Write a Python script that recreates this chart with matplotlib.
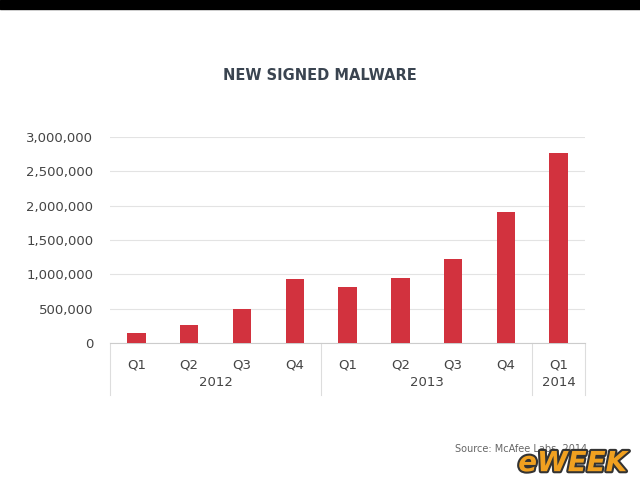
import matplotlib
matplotlib.use("Agg")
import matplotlib.pyplot as plt
import matplotlib.transforms as mtransforms
import matplotlib.patheffects as pe

quarters = ["Q1", "Q2", "Q3", "Q4", "Q1", "Q2", "Q3", "Q4", "Q1"]
years = ["2012", "2013", "2014"]
year_spans = [(0, 3), (4, 7), (8, 8)]
values = [146000, 262000, 495000, 933000, 816000, 947000, 1220000, 1910000, 2770000]
yticks = [0, 500000, 1000000, 1500000, 2000000, 2500000, 3000000]

fig = plt.figure(figsize=(6.4, 4.8), dpi=100)
fig.patch.set_facecolor("white")
fig.patches.append(plt.Rectangle((0, 0.982), 1, 0.018, transform=fig.transFigure, color="black", zorder=0))

ax = fig.add_axes([0.172, 0.285, 0.742, 0.43])
x = list(range(len(values)))
ax.bar(x, values, width=0.35, color="#d2323e", zorder=3)
ax.set_xlim(-0.5, 8.5)
ax.set_ylim(0, 3000000)
ax.set_yticks(yticks)
ax.set_yticklabels([f"{v:,}" for v in yticks], fontsize=9.5, color="#444444")
ax.yaxis.grid(True, color="#e3e3e3", linewidth=0.8, zorder=0)
ax.set_xticks([])
for s in ["top", "right", "left"]:
    ax.spines[s].set_visible(False)
ax.spines["bottom"].set_color("#cccccc")
ax.tick_params(axis="y", length=0, pad=12)

trans = mtransforms.blended_transform_factory(ax.transData, ax.transAxes)
for i, q in enumerate(quarters):
    ax.text(i, -0.105, q, transform=trans, ha="center", va="center", fontsize=9.5, color="#444444")
for yr, (a, b) in zip(years, year_spans):
    ax.text((a + b) / 2, -0.19, yr, transform=trans, ha="center", va="center", fontsize=9.5, color="#444444")
for b in [-0.5, 3.5, 7.5, 8.5]:
    ax.plot([b, b], [0, -0.25], transform=trans, color="#dddddd", lw=0.8, clip_on=False)

fig.text(0.5, 0.843, "NEW SIGNED MALWARE", ha="center", va="center", fontsize=10.5,
         fontweight="bold", color="#3a4450", family="DejaVu Sans Condensed")
fig.text(0.922, 0.065, "Source: McAfee Labs, 2014.", ha="right", va="center", fontsize=7, color="#666666")
fig.text(0.98, 0.035, "eWEEK", ha="right", va="center", fontsize=20, fontweight="bold", style="italic",
         color="#f0a020", path_effects=[pe.withStroke(linewidth=3, foreground="#333333")])

fig.savefig("out.png", dpi=100)
